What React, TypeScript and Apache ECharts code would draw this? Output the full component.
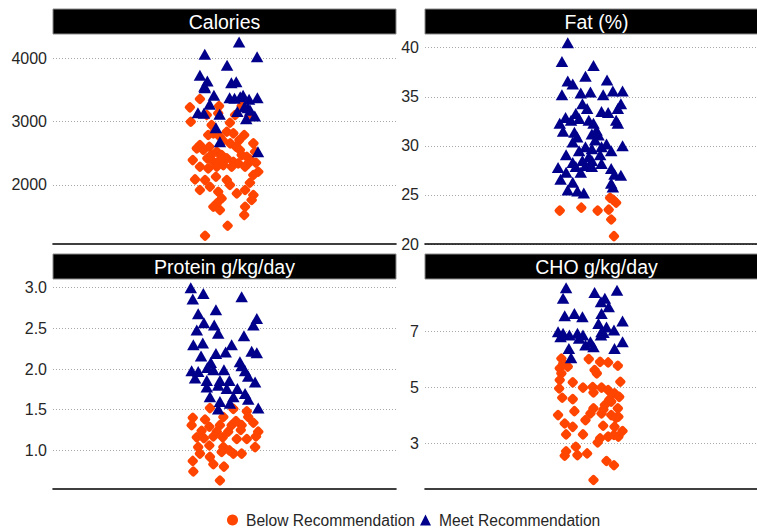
import React, { useEffect, useRef } from "react";
import * as echarts from "echarts";

// ---- data: [jitter position (category at 1), value] ----
const calBelow: number[][] = [
  [0.914, 3357], [0.879, 3226], [0.882, 2999], [0.981, 3246], [0.978, 3131], [0.938, 3104],
  [1.06, 3246], [1.037, 3104], [1.087, 3078], [1.019, 2983], [0.955, 2946], [0.961, 2815],
  [1.008, 2840], [0.943, 2789], [0.984, 2762], [1.052, 2709], [1.069, 2789], [1.031, 2815],
  [1.101, 2657], [0.914, 2630], [0.903, 2578], [0.926, 2552], [0.947, 2604], [0.973, 2525],
  [0.99, 2472], [1.008, 2420], [1.031, 2367], [1.06, 2472], [1.078, 2446], [1.107, 2525],
  [0.889, 2393], [0.961, 2367], [0.984, 2393], [1.048, 2341], [1.083, 2341], [1.11, 2351],
  [0.914, 2288], [0.943, 2262], [0.973, 2288], [0.996, 2314], [1.025, 2288], [1.072, 2288],
  [1.118, 2209], [1.101, 2157], [0.897, 2088], [0.932, 2077], [0.97, 2130], [1.008, 2077],
  [1.019, 2000], [0.949, 1972], [0.914, 1920], [0.978, 1893], [1.043, 1867], [1.072, 1920],
  [1.089, 2035], [1.101, 1841], [1.095, 1762], [0.99, 1788], [0.973, 1709], [0.961, 1656],
  [0.984, 1604], [1.072, 1656], [1.069, 1525], [1.011, 1357], [0.932, 1198], [0.94, 2420],
  [1.02, 2657], [1.04, 2604], [1.054, 2552], [0.995, 2700], [0.955, 2480], [1.09, 2400],
];
const calMeet: number[][] = [
  [1.051, 4258], [0.931, 4063], [1.114, 4025], [1.009, 3889], [0.914, 3731], [0.94, 3641],
  [0.93, 3560], [1.024, 3615], [1.041, 3630], [0.931, 3536], [0.963, 3415], [1.018, 3378],
  [1.065, 3415], [1.086, 3352], [1.115, 3378], [0.948, 3273], [0.907, 3141], [0.928, 3131],
  [0.983, 3115], [1.082, 3220], [1.106, 3088], [1.076, 3046], [0.97, 2904], [0.984, 2683],
  [1.117, 2525], [1.035, 3368], [1.055, 3394], [1.07, 3236], [1.045, 3160], [1.09, 3180],
];
const fatBelow: number[][] = [
  [0.887, 23.4], [0.965, 23.7], [1.024, 23.4], [1.064, 23.5], [1.069, 24.7], [1.091, 24.2],
  [1.08, 24.5], [1.073, 22.5], [1.083, 20.8],
];
const fatMeet: number[][] = [
  [0.916, 40.5], [0.895, 38.6], [1.009, 38.2], [0.98, 37.1], [0.916, 36.6], [0.934, 36.3],
  [1.058, 36.7], [0.895, 35.2], [0.963, 35.4], [0.998, 35.5], [1.044, 35.2], [1.079, 35.6],
  [1.114, 35.6], [1.108, 34.3], [1.097, 33.8], [1.038, 33.5], [1.062, 33.4], [0.969, 34.3],
  [0.986, 33.8], [0.945, 33.3], [0.908, 32.9], [0.887, 32.3], [0.928, 32.6], [0.957, 32.8],
  [0.992, 32.6], [1.009, 32.3], [1.091, 32.6], [1.097, 32.3], [0.899, 31.5], [0.94, 31.4],
  [1.003, 31.2], [1.027, 31.1], [0.934, 30.4], [1.015, 30.6], [1.056, 30.2], [1.114, 30.0],
  [0.98, 29.9], [0.957, 29.5], [1.003, 29.7], [1.038, 29.9], [1.073, 29.5], [0.91, 29.1],
  [0.992, 28.9], [1.033, 29.1], [0.934, 28.3], [0.969, 28.5], [1.003, 28.5], [1.038, 28.2],
  [0.881, 27.8], [0.945, 27.9], [0.98, 28.0], [1.003, 27.9], [0.91, 27.3], [0.963, 27.3],
  [1.073, 27.7], [1.108, 27.0], [1.085, 27.1], [0.89, 26.6], [0.934, 26.3], [1.073, 26.2],
  [1.079, 25.8], [0.916, 25.5], [0.951, 25.4], [0.974, 25.2], [1.02, 31.6], [0.95, 30.9],
];
const proBelow: number[][] = [
  [0.949, 1.52], [1.031, 1.51], [1.078, 1.48], [0.889, 1.40], [0.932, 1.38], [0.996, 1.41],
  [1.083, 1.41], [0.885, 1.31], [0.947, 1.29], [0.984, 1.31], [1.025, 1.31], [1.06, 1.31],
  [1.101, 1.34], [0.973, 1.23], [1.013, 1.23], [1.057, 1.25], [1.118, 1.23], [0.903, 1.16],
  [0.928, 1.15], [0.961, 1.17], [0.994, 1.16], [1.043, 1.14], [1.078, 1.14], [1.11, 1.17],
  [0.908, 1.04], [0.947, 1.06], [0.996, 1.04], [1.031, 0.96], [1.06, 0.96], [1.107, 1.04],
  [0.914, 0.96], [0.949, 0.92], [0.99, 0.98], [1.017, 1.00], [0.889, 0.87], [0.961, 0.83],
  [0.998, 0.80], [0.891, 0.74], [0.984, 0.63], [0.92, 1.24], [1.04, 1.36],
];
const proMeet: number[][] = [
  [0.882, 3.0], [0.926, 2.93], [0.889, 2.86], [1.06, 2.89], [0.97, 2.73], [0.908, 2.68],
  [1.113, 2.62], [0.928, 2.57], [0.964, 2.54], [1.101, 2.54], [0.903, 2.48], [0.978, 2.44],
  [1.068, 2.41], [1.025, 2.30], [0.891, 2.30], [0.924, 2.32], [1.004, 2.21], [0.97, 2.19],
  [1.095, 2.22], [1.113, 2.20], [0.918, 2.16], [1.054, 2.09], [0.952, 2.08], [0.885, 1.98],
  [0.908, 1.97], [0.961, 1.99], [0.998, 1.99], [1.072, 1.98], [0.897, 1.89], [0.938, 1.86],
  [0.984, 1.86], [1.017, 1.86], [1.083, 1.91], [1.107, 1.84], [0.938, 1.78], [0.978, 1.80],
  [1.008, 1.76], [1.045, 1.76], [0.949, 1.66], [1.031, 1.66], [1.072, 1.70], [1.083, 1.63],
  [0.984, 1.60], [1.019, 1.58], [0.978, 1.51], [1.118, 1.52], [1.06, 2.04], [0.94, 2.02],
];
const choBelow: number[][] = [
  [0.893, 6.02], [0.992, 6.0], [1.033, 5.90], [1.062, 5.88], [1.097, 5.76], [0.887, 5.67],
  [0.916, 5.73], [1.013, 5.61], [1.021, 5.49], [0.893, 5.49], [0.887, 5.25], [1.106, 5.19],
  [0.934, 5.17], [0.885, 4.95], [0.971, 4.98], [1.038, 4.98], [1.062, 4.89], [1.009, 4.81],
  [1.085, 4.78], [1.102, 4.65], [0.896, 4.62], [0.934, 4.57], [1.073, 4.48], [1.05, 4.36],
  [1.097, 4.24], [1.009, 4.24], [0.94, 4.14], [0.998, 4.06], [0.881, 4.0], [1.038, 4.06],
  [1.073, 4.0], [1.099, 3.94], [0.98, 3.82], [0.905, 3.70], [0.934, 3.58], [1.044, 3.62],
  [1.085, 3.58], [1.114, 3.43], [1.099, 3.23], [0.91, 3.31], [0.971, 3.31], [1.033, 3.17],
  [1.062, 3.23], [1.024, 3.02], [1.083, 3.29], [0.945, 2.87], [0.91, 2.71], [0.905, 2.55],
  [0.951, 2.57], [0.986, 2.63], [1.056, 2.36], [1.083, 2.21], [1.009, 1.68], [1.066, 4.55],
  [1.09, 3.9], [1.006, 5.0], [0.9, 5.85], [1.045, 4.2],
];
const choMeet: number[][] = [
  [0.91, 8.55], [0.899, 8.17], [1.013, 8.38], [1.094, 8.46], [1.05, 8.17], [1.036, 8.05],
  [1.064, 7.87], [0.905, 7.55], [0.94, 7.63], [0.969, 7.51], [1.038, 7.63], [1.114, 7.36],
  [1.027, 7.27], [1.056, 7.15], [0.881, 6.98], [0.899, 6.92], [0.922, 6.86], [0.951, 6.92],
  [0.971, 6.86], [1.038, 6.98], [1.083, 7.04], [0.998, 6.62], [0.98, 6.50], [1.009, 6.44],
  [1.036, 6.86], [1.114, 6.62], [1.085, 6.38], [0.92, 6.38], [0.928, 6.05], [0.957, 6.74],
  [0.89, 6.8], [1.045, 6.95],
];

const panelTitles = ["Calories", "Fat (%)", "Protein g/kg/day", "CHO g/kg/day"];
const yMins = [1068, 20, 0.525, 1.36];
const yMaxs = [4384, 41.4, 3.107, 8.86];
const yTicks = [
  [2000, 3000, 4000],
  [20, 25, 30, 35, 40],
  [1.0, 1.5, 2.0, 2.5, 3.0],
  [3, 5, 7],
];
const yDecimals = [0, 0, 1, 0];
const belowData = [calBelow, fatBelow, proBelow, choBelow];
const meetData = [calMeet, fatMeet, proMeet, choMeet];
const seriesNames = ["Below Recommendation", "Meet Recommendation"];

const ORANGE = "#FF4500";
const NAVY = "#00008B";
const FONT = '"Liberation Sans", Arial, sans-serif';

export default function App() {
  const ref = useRef<HTMLDivElement>(null);
  useEffect(() => {
    if (!ref.current) return;
    const chart = echarts.init(ref.current, null, { renderer: "svg" });
    const pos = [
      { left: 53, top: 34 },
      { left: 425, top: 34 },
      { left: 53, top: 279 },
      { left: 425, top: 279 },
    ];
    const W = 343;
    const H = 210;
    const grids = pos.map((p) => ({ left: p.left, top: p.top, width: W, height: H }));
    const xAxes = pos.map((_, i) => ({
      type: "value",
      gridIndex: i,
      min: 0.4,
      max: 1.6,
      axisLine: { show: true, onZero: false, lineStyle: { color: "#000", width: 1.6 } },
      axisTick: { show: false },
      axisLabel: { show: false },
      splitLine: { show: false },
    }));
    const yAxes = pos.map((_, i) => ({
      type: "value",
      gridIndex: i,
      min: yMins[i],
      max: yMaxs[i],
      axisLine: { show: false },
      axisTick: { show: false, customValues: yTicks[i] },
      axisLabel: {
        customValues: yTicks[i],
        color: "#262626",
        fontSize: 16,
        fontFamily: FONT,
        margin: 6,
        formatter: (v: number) => v.toFixed(yDecimals[i]),
      },
      splitLine: {
        show: true,
        lineStyle: { color: "#a8a8a8", type: [1, 2], width: 1 },
      },
    }));
    const series: any[] = [];
    for (let i = 0; i < 4; i++) {
      series.push({
        name: seriesNames[0],
        type: "scatter",
        xAxisIndex: i,
        yAxisIndex: i,
        data: belowData[i],
        symbol: "roundRect",
        symbolRotate: 45,
        symbolSize: 8.6,
        itemStyle: { color: ORANGE, opacity: 1 },
      });
      series.push({
        name: seriesNames[1],
        type: "scatter",
        xAxisIndex: i,
        yAxisIndex: i,
        data: meetData[i],
        symbol: "triangle",
        symbolSize: [12.5, 11],
        itemStyle: { color: NAVY, opacity: 1 },
      });
    }
    const graphics: any[] = [];
    pos.forEach((p, i) => {
      graphics.push({
        type: "rect",
        shape: { x: p.left, y: p.top - 25, width: W, height: 25 },
        style: { fill: "#000", stroke: "#8a8a8a", lineWidth: 1 },
        silent: true,
      });
      graphics.push({
        type: "text",
        x: p.left + W / 2,
        y: p.top - 12,
        style: {
          text: panelTitles[i],
          fill: "#fff",
          font: `19.5px ${FONT}`,
          textAlign: "center",
          textVerticalAlign: "middle",
        },
        silent: true,
      });
    });
    chart.setOption({
      animation: false,
      backgroundColor: "#fff",
      grid: grids,
      xAxis: xAxes,
      yAxis: yAxes,
      series,
      graphic: graphics,
      legend: {
        left: 227,
        top: 512,
        itemWidth: 11,
        itemHeight: 11,
        itemGap: 5,
        padding: 0,
        data: [
          { name: seriesNames[0], icon: "circle", itemStyle: { opacity: 1 } },
          { name: seriesNames[1], icon: "triangle", itemStyle: { opacity: 1 } },
        ],
        textStyle: { fontSize: 15.6, color: "#262626", fontFamily: FONT, padding: [0, 0, 0, 3] },
      },
    });
    return () => chart.dispose();
  }, []);
  return (
    <div
      ref={ref}
      style={{ width: 757, height: 532, position: "absolute", left: 0, top: 0 }}
    />
  );
}
